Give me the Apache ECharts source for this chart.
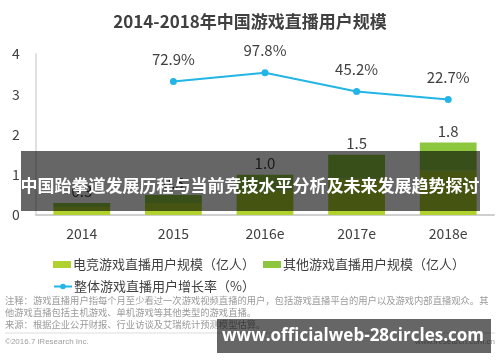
<!DOCTYPE html>
<html>
<head>
<meta charset="utf-8">
<script src="https://cdn.jsdelivr.net/npm/echarts@6/dist/echarts.min.js"></script>
<style>
html,body{margin:0;padding:0;background:#fff;}
#chart{width:500px;height:362px;}
</style>
</head>
<body>
<div id="chart"></div>
<script>
var categories = ['2014', '2015', '2016e', '2017e', '2018e'];
var esportsUsers = [0.2, 0.3, 0.6, 0.9, 1.1];
var otherUsers = [0.1, 0.2, 0.4, 0.6, 0.7];
var totalLabels = ['0.3', '0.5', '1.0', '1.5', '1.8'];
var growthRate = [null, 72.9, 97.8, 45.2, 22.7];
var yTicks = [0, 1, 2, 3, 4];

var nameEsports = '电竞游戏直播用户规模（亿人）';
var nameOther = '其他游戏直播用户规模（亿人）';
var nameGrowth = '整体游戏直播用户增长率（%）';

var FONT = '"Noto Sans CJK SC", "Noto Sans", sans-serif';

var chart = echarts.init(document.getElementById('chart'), null, {renderer: 'canvas'});
chart.setOption({
  animation: false,
  backgroundColor: '#ffffff',
  textStyle: {fontFamily: FONT},
  title: {
    text: '2014-2018年中国游戏直播用户规模',
    left: 'center',
    top: 8,
    textStyle: {fontSize: 17, fontWeight: 'bold', color: '#404040', fontFamily: FONT}
  },
  grid: {left: 36, right: 6, top: 54, bottom: 147},
  legend: [{
    data: [nameEsports, nameOther],
    left: 48, top: 253,
    itemWidth: 18, itemHeight: 7, itemGap: 8,
    icon: 'rect',
    textStyle: {fontSize: 13, color: '#404040', fontFamily: FONT, padding: [0,0,0,-3]}
  }, {
    data: [nameGrowth],
    left: 48, top: 275,
    itemWidth: 18, itemHeight: 7,
    textStyle: {fontSize: 13, color: '#404040', fontFamily: FONT, padding: [0,0,0,-3]}
  }],
  xAxis: {
    type: 'category',
    data: categories,
    axisLine: {lineStyle: {color: '#cfcfcf', width: 2}},
    axisTick: {show: false},
    axisLabel: {fontSize: 14, color: '#404040', margin: 12, fontFamily: FONT}
  },
  yAxis: [{
    type: 'value',
    min: yTicks[0], max: yTicks[yTicks.length - 1], interval: 1,
    axisLine: {show: true, lineStyle: {color: '#d6d6d6', width: 1.5}},
    axisTick: {show: false},
    splitLine: {show: false},
    axisLabel: {fontSize: 14, color: '#404040', margin: 20, align: 'center', fontFamily: FONT}
  }, {
    type: 'value',
    min: -300, max: 150,
    show: false,
    splitLine: {show: false}
  }],
  series: [{
    name: nameEsports,
    type: 'bar',
    stack: 'users',
    data: esportsUsers,
    barWidth: '62%',
    itemStyle: {color: '#b0d12e'}
  }, {
    name: nameOther,
    type: 'bar',
    stack: 'users',
    data: otherUsers,
    barWidth: '62%',
    itemStyle: {color: '#8dc63f'},
    label: {
      show: true, position: 'top', distance: 4,
      fontSize: 15, color: '#404040', fontFamily: FONT,
      formatter: function (p) { return totalLabels[p.dataIndex]; }
    }
  }, {
    name: nameGrowth,
    type: 'line',
    yAxisIndex: 1,
    data: growthRate,
    symbol: 'circle',
    symbolSize: 7,
    lineStyle: {color: '#22b5e6', width: 2},
    itemStyle: {color: '#22b5e6'},
    label: {
      show: true, position: 'top', distance: 11,
      fontSize: 15, color: '#404040', fontFamily: FONT,
      formatter: '{c}%'
    }
  }],
  graphic: [
    {type: 'text', left: 5, top: 296, style: {text: '注释：游戏直播用户指每个月至少看过一次游戏视频直播的用户，包括游戏直播平台的用户以及游戏内部直播观众。其', fontSize: 9.3, fill: '#9a9a9a', fontFamily: FONT}},
    {type: 'text', left: 5, top: 308, style: {text: '他游戏直播包括主机游戏、单机游戏等其他类型的游戏直播。', fontSize: 9.3, fill: '#9a9a9a', fontFamily: FONT}},
    {type: 'text', left: 5, top: 320, style: {text: '来源：根据企业公开财报、行业访谈及艾瑞统计预测模型估算。', fontSize: 9.3, fill: '#9a9a9a', fontFamily: FONT}},
    {type: 'line', shape: {x1: 5, y1: 333, x2: 495, y2: 333}, style: {stroke: '#dddddd', lineWidth: 1}},
    {type: 'text', left: 5, top: 338, style: {text: '©2016.7 iResearch Inc.', fontSize: 8, fill: '#a0a0a0', fontFamily: '"Liberation Sans", Arial, sans-serif'}},
    {type: 'text', right: 5, top: 338, style: {text: 'www.iresearch.com.cn', fontSize: 8, fill: '#a0a0a0', fontFamily: '"Liberation Sans", Arial, sans-serif'}},
    {type: 'rect', shape: {x: 21, y: 151, width: 459, height: 60}, style: {fill: 'rgba(0,0,0,0.6)'}, z: 100},
    {type: 'text', x: 250, y: 186, z: 101, style: {text: '中国跆拳道发展历程与当前竞技水平分析及未来发展趋势探讨', fontSize: 17, fontWeight: 'bold', fill: '#ffffff', align: 'center', verticalAlign: 'middle', fontFamily: FONT}},
    {type: 'rect', shape: {x: 217, y: 319, width: 274, height: 34}, style: {fill: 'rgba(0,0,0,0.6)'}, z: 100},
    {type: 'text', x: 353, y: 336, z: 101, style: {text: 'www.officialweb-28circles.com', fontSize: 17, fontWeight: 'bold', fill: '#ffffff', align: 'center', verticalAlign: 'middle', fontFamily: '"Open Sans", "DejaVu Sans", sans-serif'}}
  ]
});
</script>
</body>
</html>
